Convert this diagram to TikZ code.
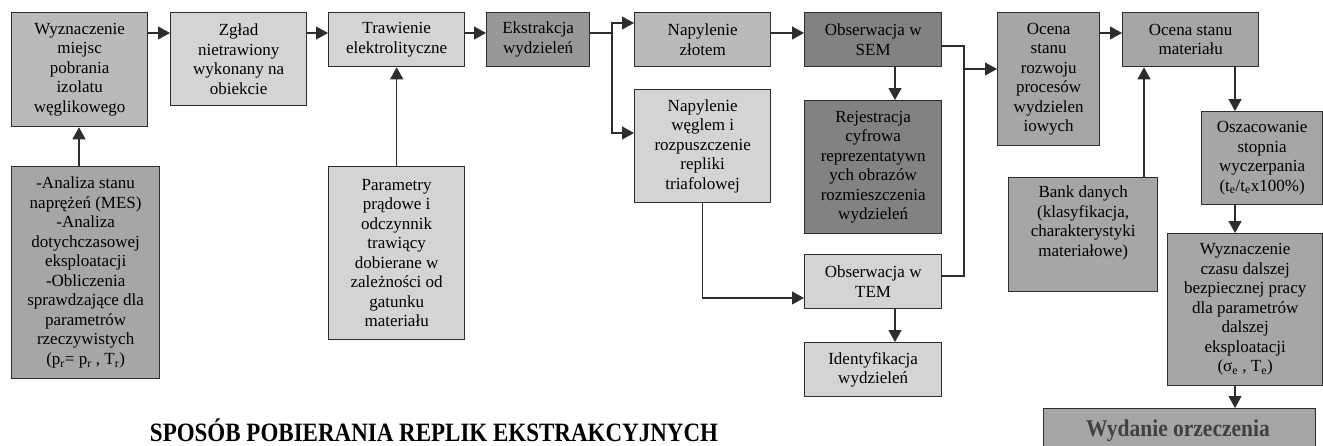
\documentclass[tikz,border=0pt]{standalone}
\usepackage{fontspec}
\setmainfont{Liberation Serif}
\usetikzlibrary{positioning,arrows.meta}
\definecolor{boxlight}{RGB}{212,212,212}
\definecolor{boxmid}{RGB}{186,186,186}
\definecolor{boxdark}{RGB}{166,166,166}
\definecolor{boxdeep}{RGB}{152,152,152}
\definecolor{boxsem}{RGB}{130,130,130}
\definecolor{linegray}{RGB}{45,45,45}

\begin{document}
\begin{tikzpicture}[x=1pt,y=-1pt,
  stepbox/.style={draw=linegray,line width=1.3pt,anchor=north west,align=center,inner sep=0pt,
    font=\fontsize{17}{19.5}\selectfont},
  flow/.style={draw=linegray,line width=1.2pt},
  flowarrow/.style={flow,-{Triangle[length=12pt,width=13pt]}},
  bigtitle/.style={anchor=base,font=\fontsize{23}{26}\selectfont\bfseries}]

\useasboundingbox (0,0) rectangle (1323,445);
\clip (0,0) rectangle (1323,445);

% top row
\node[stepbox,fill=boxmid,minimum width=136pt,minimum height=114pt] (wyzn) at (11,12)
  {Wyznaczenie\\miejsc\\pobrania\\izolatu\\węglikowego};
\node[stepbox,fill=boxlight,minimum width=136pt,minimum height=93pt] (zglad) at (170,12)
  {Zgład\\nietrawiony\\wykonany na\\obiekcie};
\node[stepbox,fill=boxlight,minimum width=136pt,minimum height=54pt] (traw) at (328,12)
  {Trawienie\\elektrolityczne};
\node[stepbox,fill=boxdeep,minimum width=103pt,minimum height=54pt] (ekstr) at (486,12)
  {Ekstrakcja\\wydzieleń};
\node[stepbox,fill=boxmid,minimum width=136pt,minimum height=54pt] (zloto) at (634,12)
  {Napylenie\\złotem};
\node[stepbox,fill=boxsem,minimum width=137pt,minimum height=54pt] (sem) at (804,12)
  {Obserwacja w\\SEM};
\node[stepbox,fill=boxdark,minimum width=102pt,minimum height=133pt] (rozwoj) at (997,12)
  {Ocena\\stanu\\rozwoju\\procesów\\wydzielen\\iowych};
\node[stepbox,fill=boxdark,minimum width=136pt,minimum height=54pt] (material) at (1122,12)
  {Ocena stanu\\materiału};

% lower boxes
\node[stepbox,fill=boxsem,minimum width=137pt,minimum height=133pt] (rejestr) at (804,100)
  {Rejestracja\\cyfrowa\\reprezentatywn\\ych obrazów\\rozmieszczenia\\wydzieleń};
\node[stepbox,fill=boxlight,minimum width=136pt,minimum height=113pt] (wegiel) at (634,89)
  {Napylenie\\węglem i\\rozpuszczenie\\repliki\\triafolowej};
\node[stepbox,fill=boxlight,minimum width=137pt,minimum height=54pt] (tem) at (804,254)
  {Obserwacja w\\TEM};
\node[stepbox,fill=boxlight,minimum width=137pt,minimum height=54pt] (ident) at (804,342)
  {Identyfikacja\\wydzieleń};
\node[stepbox,fill=boxdark,minimum width=148pt,minimum height=212pt] (analiza) at (11,166)
  {-Analiza stanu\\naprężeń (MES)\\-Analiza\\dotychczasowej\\eksploatacji\\-Obliczenia\\sprawdzające dla\\parametrów\\rzeczywistych\\(p\textsubscript{r}= p\textsubscript{r} , T\textsubscript{r})};
\node[stepbox,fill=boxlight,minimum width=136pt,minimum height=173pt] (param) at (328,166)
  {Parametry\\prądowe i\\odczynnik\\trawiący\\dobierane w\\zależności od\\gatunku\\materiału};
\node[stepbox,fill=boxdark,minimum width=149pt,minimum height=114pt,text depth=27pt] (bank) at (1008,177)
  {Bank danych\\(klasyfikacja,\\charakterystyki\\materiałowe)};
\node[stepbox,fill=boxdark,minimum width=121pt,minimum height=93pt] (oszac) at (1201,111)
  {Oszacowanie\\stopnia\\wyczerpania\\(t\textsubscript{e}/t\textsubscript{e}x100\%)};
\node[stepbox,fill=boxdark,minimum width=155pt,minimum height=152pt] (czas) at (1167,233)
  {Wyznaczenie\\czasu dalszej\\bezpiecznej pracy\\dla parametrów\\dalszej\\eksploatacji\\(σ\textsubscript{e} , T\textsubscript{e})};
\node[stepbox,fill=boxdark,minimum width=272pt,minimum height=50pt] (wydanie) at (1043,408) {};
\node[bigtitle,text=black!75,font=\fontsize{21.5}{24}\selectfont\bfseries] (wydaniet) at (1178,436)
  {\scalebox{1}[1.12]{Wydanie orzeczenia}};

\node[bigtitle] (title) at (434,441) {\scalebox{1}[1.15]{SPOSÓB POBIERANIA REPLIK EKSTRAKCYJNYCH}};

% rows and columns of the connectors
\coordinate (rowtop) at (0,33);
\coordinate (rowsplit) at (0,23);
\coordinate (rowwegiel) at (0,133);
\coordinate (rowsem) at (0,46);
\coordinate (rowrozw) at (0,69);
\coordinate (rowtem) at (0,276);
\coordinate (rowtemin) at (0,298);
\coordinate (split) at (612,33);
\coordinate (merge) at (964,46);
\coordinate (colsem) at (895,0);
\coordinate (colbank) at (1144,0);
\coordinate (colocena) at (1235,0);
\coordinate (colwyzn) at (79,0);

\draw[flowarrow] (wyzn.east |- rowtop) -- (zglad.west |- rowtop);
\draw[flowarrow] (zglad.east |- rowtop) -- (traw.west |- rowtop);
\draw[flowarrow] (traw.east |- rowtop) -- (ekstr.west |- rowtop);
\draw[flow] (ekstr.east |- rowtop) -- (split);
\draw[flowarrow] (split) |- (zloto.west |- rowsplit);
\draw[flowarrow] (split) |- (wegiel.west |- rowwegiel);
\draw[flowarrow] (zloto.east |- rowtop) -- (sem.west |- rowtop);
\draw[flowarrow] (sem.south -| colsem) -- (rejestr.north -| colsem);
\draw[flow] (sem.east |- rowsem) -- (merge) |- (tem.east |- rowtem);
\draw[flowarrow] (merge |- rowrozw) -- (rozwoj.west |- rowrozw);
\draw[flowarrow] (wegiel.south) |- (tem.west |- rowtemin);
\draw[flowarrow] (tem.south -| colsem) -- (ident.north -| colsem);
\draw[flowarrow] (rozwoj.east |- rowtop) -- (material.west |- rowtop);
\draw[flowarrow] (bank.north -| colbank) -- (material.south -| colbank);
\draw[flowarrow] (material.south -| colocena) -- (oszac.north -| colocena);
\draw[flowarrow] (oszac.south -| colocena) -- (czas.north -| colocena);
\draw[flowarrow] (czas.south -| colocena) -- (wydanie.north -| colocena);
\draw[flowarrow] (analiza.north -| colwyzn) -- (wyzn.south -| colwyzn);
\draw[flowarrow] (param.north) -- (traw.south -| param.north);
\end{tikzpicture}
\end{document}
